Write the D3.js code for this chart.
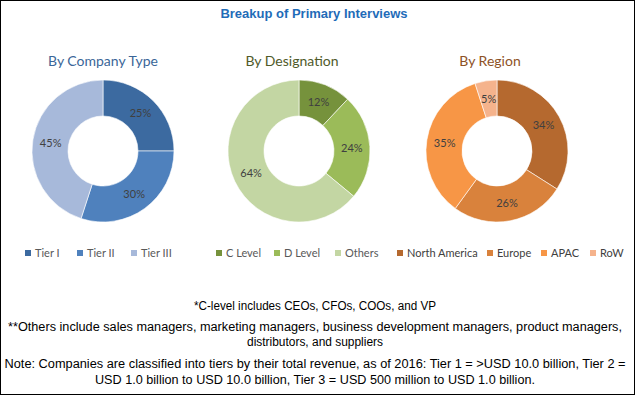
<!DOCTYPE html>
<html>
<head>
<meta charset="utf-8">
<script src="https://cdn.jsdelivr.net/npm/d3@7"></script>
<style>
  body { margin: 0; background: #fff; }
  svg { display: block; }
</style>
</head>
<body>
<script>
// Chart data
var companyTypes = ["Tier I", "Tier II", "Tier III"];
var companyShares = [25, 30, 45];
var designations = ["C Level", "D Level", "Others"];
var designationShares = [12, 24, 64];
var regions = ["North America", "Europe", "APAC", "RoW"];
var regionShares = [34, 26, 35, 5];

var footnotes = [
  "*C-level includes CEOs, CFOs, COOs, and VP",
  "**Others include sales managers, marketing managers, business development managers, product managers,",
  "distributors, and suppliers",
  "Note: Companies are classified into tiers by their total revenue, as of 2016: Tier 1 = >USD 10.0 billion, Tier 2 =",
  "USD 1.0 billion to USD 10.0 billion, Tier 3 = USD 500 million to USD 1.0 billion."
];

var w = 637;
var h = 396;

// footnote layout (baseline, rendered width)
var noteY = [310, 331, 346, 368, 384];
var noteW = [242, 614, 136, 621, 440];

var svg = d3.select("body")
  .append("svg")
  .attr("width", w)
  .attr("height", h);

// frame
svg.append("rect")
  .attr("x", 0.5).attr("y", 0.5)
  .attr("width", 634).attr("height", 394)
  .attr("fill", "#fff")
  .attr("stroke", "#000")
  .attr("stroke-width", 1);

// main title
svg.append("text")
  .attr("x", 314).attr("y", 18)
  .attr("text-anchor", "middle")
  .attr("font-family", "'Liberation Sans', Arial, sans-serif")
  .attr("font-weight", "bold")
  .attr("font-size", "13px")
  .attr("fill", "#1f6cb8")
  .text("Breakup of Primary Interviews");

var pie = d3.pie().sort(null).value(function(d) { return d.value; });
var arc = d3.arc().innerRadius(35).outerRadius(71);

// one donut panel
function donut(cfg) {
  var data = cfg.labels.map(function(l, i) { return { label: l, value: cfg.values[i] }; });
  var color = d3.scaleOrdinal().domain(cfg.labels).range(cfg.colors);

  svg.append("text")
    .attr("x", cfg.titleX).attr("y", 66)
    .attr("text-anchor", "middle")
    .attr("font-family", "Lato, sans-serif")
    .attr("font-size", "14px")
    .attr("fill", cfg.titleColor)
    .text(cfg.title);

  var g = svg.append("g").attr("transform", "translate(" + cfg.cx + ",151)");

  g.selectAll("path")
    .data(pie(data))
    .enter()
    .append("path")
    .attr("d", arc)
    .attr("fill", function(d) { return color(d.data.label); })
    .attr("stroke", "#fff")
    .attr("stroke-width", 0.6);

  g.selectAll("text")
    .data(pie(data))
    .enter()
    .append("text")
    .attr("transform", function(d) { return "translate(" + arc.centroid(d) + ")"; })
    .attr("dy", "0.35em")
    .attr("text-anchor", "middle")
    .attr("font-family", "Lato, sans-serif")
    .attr("font-size", "11px")
    .attr("fill", "#404040")
    .text(function(d) { return d.data.value + "%"; });

  // legend
  var lg = svg.append("g");
  cfg.labels.forEach(function(l, i) {
    var x = cfg.legendX[i];
    lg.append("rect")
      .attr("x", x).attr("y", 250)
      .attr("width", 6).attr("height", 6)
      .attr("fill", color(l));
    lg.append("text")
      .attr("x", x + 10).attr("y", 256.5)
      .attr("font-family", "Lato, sans-serif")
      .attr("font-size", "11px")
      .attr("fill", cfg.legendText || "#595959")
      .text(l);
  });
}

donut({
  title: "By Company Type", titleX: 103, titleColor: "#3a6698", cx: 103,
  labels: companyTypes, values: companyShares,
  colors: ["#3c6aa0", "#4f81bd", "#a7b9da"],
  legendX: [25, 77, 131]
});

donut({
  title: "By Designation", titleX: 292, titleColor: "#4f5a2a", cx: 299,
  labels: designations, values: designationShares,
  colors: ["#76923c", "#9bbb59", "#c3d6a3"],
  legendX: [216, 274, 335]
});

donut({
  title: "By Region", titleX: 490, titleColor: "#8e5226", cx: 497,
  labels: regions, values: regionShares,
  colors: ["#b5692f", "#d9823c", "#f79646", "#f5b38c"],
  legendX: [397, 487, 541, 590], legendText: "#404040"
});

// footnotes (narrow face, squeezed to the reference widths)
svg.selectAll("text.note")
  .data(footnotes)
  .enter()
  .append("text")
  .attr("class", "note")
  .attr("x", 315)
  .attr("y", function(d, i) { return noteY[i]; })
  .attr("text-anchor", "middle")
  .attr("font-family", "'Liberation Sans', Arial, sans-serif")
  .attr("font-size", "12px")
  .attr("textLength", function(d, i) { return noteW[i]; })
  .attr("lengthAdjust", "spacingAndGlyphs")
  .attr("fill", "#000")
  .text(function(d) { return d; });
</script>
</body>
</html>
